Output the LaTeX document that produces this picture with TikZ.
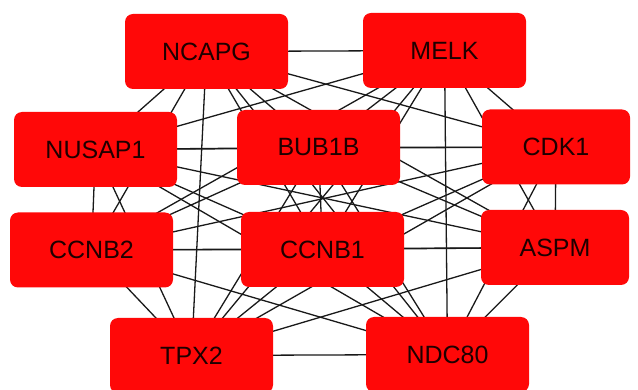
\documentclass[tikz,border=0pt]{standalone}
\usepackage{fontspec}
\setmainfont{Liberation Sans}
\usetikzlibrary{backgrounds}
\definecolor{genered}{RGB}{255,8,8}
\definecolor{genetext}{RGB}{30,0,0}
\tikzset{
  gene/.style={draw=none, fill=genered, rounded corners=8pt,
    minimum width=163pt, minimum height=75pt, inner sep=0pt,
    font=\fontsize{25}{28}\selectfont, text=genetext},
  narrowgene/.style={gene, minimum width=148pt},
  edge/.style={draw=black!90, line width=1.3pt}
}
\begin{document}
\begin{tikzpicture}[x=1pt, y=-1pt]
  \useasboundingbox (0,0) rectangle (638,390);
  % gene nodes
  \node[gene] (ncapg) at (206.5,51.5) {NCAPG};
  \node[gene] (melk)  at (444.5,50.5) {MELK};
  \node[gene] (nusap) at (95.5,149.5) {NUSAP1};
  \node[gene] (bub)   at (318.5,147.5) {BUB1B};
  \node[narrowgene] (cdk) at (556,147) {CDK1};
  \node[gene] (ccnbb) at (91.5,250) {CCNB2};
  \node[gene] (ccnba) at (322.5,249.5) {CCNB1};
  \node[narrowgene] (aspm) at (555,247.5) {ASPM};
  \node[gene] (tpx)   at (191.5,355.5) {TPX2};
  \node[gene] (ndc)   at (447.5,354.5) {NDC80};
  % every pair of genes is linked, behind the boxes
  \begin{pgfonlayer}{background}
    \def\genes{ncapg,melk,nusap,bub,cdk,ccnbb,ccnba,aspm,tpx,ndc}
    \foreach \a [count=\i] in \genes {
      \foreach \b [count=\j] in \genes {
        \ifnum\j>\i
          \draw[edge] (\a.center) -- (\b.center);
        \fi
      }
    }
  \end{pgfonlayer}
\end{tikzpicture}
\end{document}
